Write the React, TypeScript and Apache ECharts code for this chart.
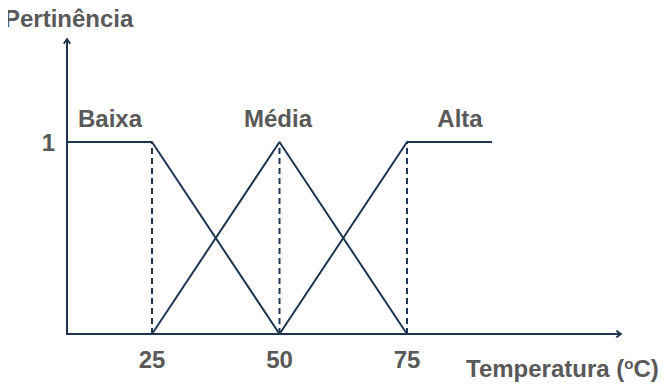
import React, { useEffect, useRef } from "react";
import * as echarts from "echarts";

// Membership functions (x = temperature, y = pertinência)
const baixaX = [25 / 3, 25, 50];
const baixaY = [1, 1, 0];
const mediaX = [25, 50, 75];
const mediaY = [0, 1, 0];
const altaX = [50, 75, 275 / 3];
const altaY = [0, 1, 1];
const dashedX = [25, 50, 75];
const xTicks = [25, 50, 75];
const yTicks = [1];
const setLabels = ["Baixa", "Média", "Alta"];

const NAVY = "#1f3552";
const GREY = "#595959";
const FONT = "Liberation Sans, Arial, sans-serif";

const zip = (xs: number[], ys: number[]) => xs.map((x, i) => [x, ys[i]]);

const chevron = "path://M5,0 L10,7 L8.4,9 L5,4 L1.6,9 L0,7 Z";

export default function App() {
  const ref = useRef<HTMLDivElement>(null);
  useEffect(() => {
    if (!ref.current) return;
    const chart = echarts.init(ref.current, undefined, { renderer: "svg" });
    const xMin = 25 / 3;
    const pxPerUnit = 5.1;
    const gridLeft = 67;
    const gridTop = 41;
    const gridWidth = 552;
    const gridHeight = 293;
    const xMax = xMin + gridWidth / pxPerUnit;
    const yMax = gridHeight / 192;

    const solid = (name: string, xs: number[], ys: number[]) => ({
      type: "line",
      name,
      data: zip(xs, ys),
      symbol: "none",
      lineStyle: { color: NAVY, width: 2 },
      z: 3,
    });

    const dashed = dashedX.map((x) => ({
      type: "line",
      data: [
        [x, 0],
        [x, 1],
      ],
      symbol: "none",
      lineStyle: { color: NAVY, width: 2, type: [6, 4] },
      z: 2,
    }));

    const axisLine = {
      show: true,
      lineStyle: { color: NAVY, width: 2 },
      symbol: ["none", chevron],
      symbolSize: [10, 7],
    };
    const labelStyle = {
      color: GREY,
      fontSize: 24,
      fontWeight: "bold",
      fontFamily: FONT,
    };

    const labelPos = [110, 278, 460];
    const option: any = {
      animation: false,
      grid: { left: gridLeft, top: gridTop, width: gridWidth, height: gridHeight },
      xAxis: {
        type: "value",
        min: xMin,
        max: xMax,
        splitLine: { show: false },
        axisLine,
        axisTick: { show: false },
        axisLabel: { ...labelStyle, customValues: xTicks, margin: 13 },
      },
      yAxis: {
        type: "value",
        min: 0,
        max: yMax,
        splitLine: { show: false },
        axisLine,
        axisTick: { show: false },
        axisLabel: { ...labelStyle, customValues: yTicks, margin: 12 },
      },
      series: [
        ...dashed,
        solid("Baixa", baixaX, baixaY),
        solid("Média", mediaX, mediaY),
        solid("Alta", altaX, altaY),
      ],
      graphic: [
        ...setLabels.map((t, i) => ({
          type: "text",
          x: labelPos[i],
          y: 118,
          style: {
            text: t,
            fill: GREY,
            font: `bold 24px ${FONT}`,
            textAlign: "center",
            textVerticalAlign: "middle",
          },
        })),
        {
          type: "text",
          x: 4,
          y: 18,
          style: {
            text: "Pertinência",
            fill: GREY,
            font: `bold 24px ${FONT}`,
            textAlign: "left",
            textVerticalAlign: "middle",
          },
        },
        {
          type: "text",
          x: 466,
          y: 368,
          style: {
            text: "Temperatura ({s|o}C)",
            fill: GREY,
            font: `bold 24px ${FONT}`,
            textAlign: "left",
            textVerticalAlign: "middle",
            rich: {
              s: {
                fill: GREY,
                fontFamily: FONT,
                fontWeight: "bold",
                fontSize: 15,
                verticalAlign: "top",
                padding: [0, 0, 8, 0],
              },
            },
          },
        },
      ],
    };
    chart.setOption(option);
    return () => chart.dispose();
  }, []);
  return <div ref={ref} style={{ width: 666, height: 388, marginLeft: -8, marginTop: -8 }} />;
}
